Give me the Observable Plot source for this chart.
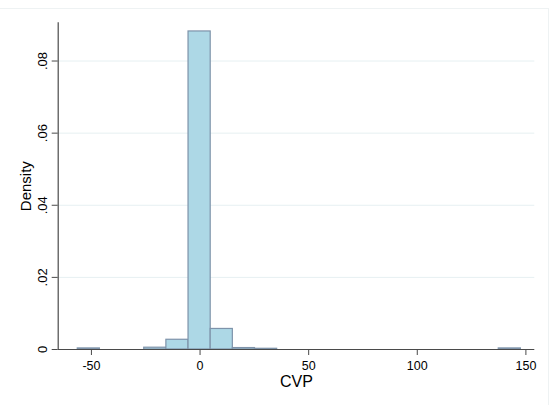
<!DOCTYPE html>
<html>
<head>
<meta charset="utf-8">
<script src="https://cdn.jsdelivr.net/npm/d3@7"></script>
<script src="https://cdn.jsdelivr.net/npm/@observablehq/plot@0.6"></script>
<style>
  html, body { margin: 0; padding: 0; background: #ffffff; }
  #chart svg { display: block; }
</style>
</head>
<body>
<div id="chart"></div>
<script>
// Histogram bin edges (CVP) and densities
const binLeft  = [-56.3, -46.1, -35.9, -25.7, -15.5, -5.3, 4.9, 15.1, 25.3, 35.5, 45.7, 55.9, 66.1, 76.3, 86.5, 96.7, 106.9, 117.1, 127.3, 137.5];
const binRight = [-46.1, -35.9, -25.7, -15.5, -5.3, 4.9, 15.1, 25.3, 35.5, 45.7, 55.9, 66.1, 76.3, 86.5, 96.7, 106.9, 117.1, 127.3, 137.5, 147.7];
const density  = [0.0003, 0, 0, 0.0005, 0.0027, 0.0882, 0.0057, 0.0004, 0.0002, 0, 0, 0, 0, 0, 0, 0, 0, 0, 0, 0.0003];

const xTicks = [-50, 0, 50, 100, 150];
const xTickLabels = ["-50", "0", "50", "100", "150"];
const yTicks = [0, 0.02, 0.04, 0.06, 0.08];
const yTickLabels = ["0", ".02", ".04", ".06", ".08"];
const gridTicks = [0.02, 0.04, 0.06, 0.08];
const xTitle = "CVP";
const yTitle = "Density";

const xDomain = [-65.3, 154.1];
const yDomain = [0, 0.0906];

const bins = binLeft.map((x1, i) => ({x1, x2: binRight[i], density: density[i]}));

const axisColor = "#4a4a4a";

const chart = Plot.plot({
  width: 557,
  height: 405,
  marginLeft: 57.7,
  marginRight: 22.7,
  marginTop: 22.3,
  marginBottom: 56,
  style: {fontFamily: "'Liberation Sans', Arial, Helvetica, sans-serif", background: "#ffffff", color: "#000"},
  x: {domain: xDomain},
  y: {domain: yDomain},
  marks: [
    Plot.ruleY(gridTicks, {stroke: "#e6f0f2", strokeWidth: 1}),
    Plot.rectY(bins.filter(d => d.density > 0), {
      x1: "x1", x2: "x2", y: "density",
      fill: "#add8e6", stroke: "#7e93aa", strokeWidth: 1.2
    }),
    Plot.ruleY([yDomain[0]], {stroke: axisColor, strokeWidth: 1.2}),
    Plot.ruleX([xDomain[0]], {y1: yDomain[0], y2: yDomain[1], stroke: axisColor, strokeWidth: 1.2}),
    Plot.axisX({
      ticks: xTicks,
      tickFormat: d => xTickLabels[xTicks.indexOf(d)],
      tickSize: 6,
      tickPadding: 5.5,
      fontSize: 12.5,
      stroke: axisColor,
      fill: "#000",
      label: null
    }),
    Plot.axisY({
      ticks: yTicks,
      tickFormat: () => "",
      tickSize: 6,
      stroke: axisColor,
      label: null
    }),
    Plot.text(yTicks, {
      x: () => xDomain[0],
      y: d => d,
      text: d => yTickLabels[yTicks.indexOf(d)],
      rotate: -90,
      dx: -15,
      textAnchor: "middle",
      lineAnchor: "middle",
      fontSize: 13,
      fill: "#000"
    }),
    Plot.text([xTitle], {
      frameAnchor: "bottom",
      dy: 32,
      lineAnchor: "middle",
      fontSize: 16,
      fill: "#000"
    }),
    Plot.text([yTitle], {
      frameAnchor: "left",
      rotate: -90,
      dx: -31.7,
      textAnchor: "middle",
      lineAnchor: "middle",
      fontSize: 15,
      fill: "#000"
    })
  ]
});

// faint outer graph-region border as in the reference
d3.select(chart).insert("rect", ":first-child")
  .attr("x", -5).attr("y", 8.5)
  .attr("width", 553.5).attr("height", 410)
  .attr("fill", "#ffffff")
  .attr("stroke", "#eef2f3")
  .attr("stroke-width", 1);

document.getElementById("chart").appendChild(chart);
</script>
</body>
</html>
